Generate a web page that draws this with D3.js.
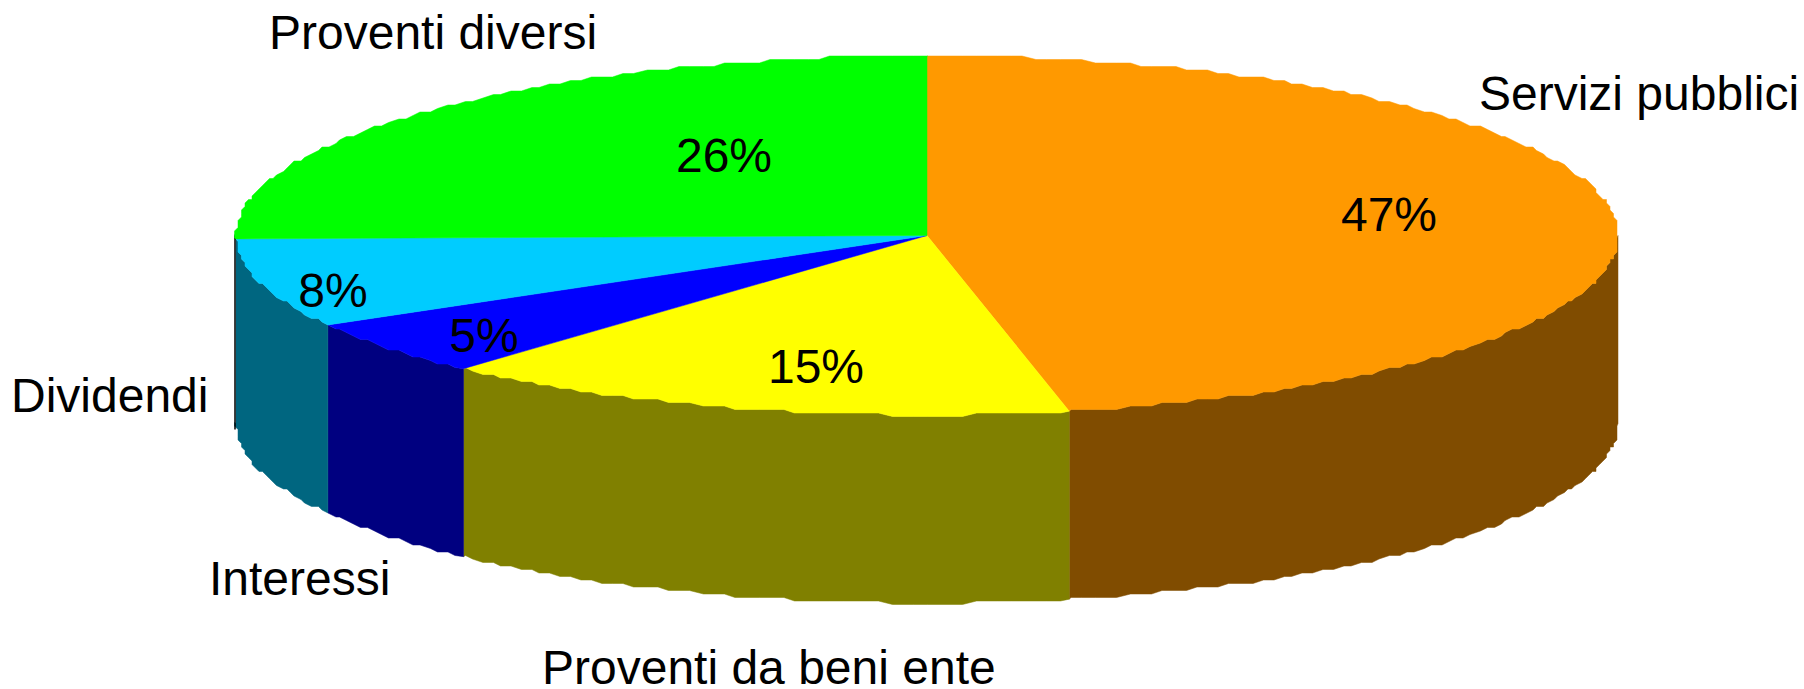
<!DOCTYPE html>
<html>
<head>
<meta charset="utf-8">
<script src="https://cdn.jsdelivr.net/npm/d3@7"></script>
<style>
  html, body { margin: 0; padding: 0; background: #fff; }
  svg { display: block; }
  text { font-family: "Liberation Sans", Arial, sans-serif; font-size: 48px; fill: #000; }
</style>
</head>
<body>
<div id="chart"></div>
<script>
// data
const categories = ["Servizi pubblici", "Proventi da beni ente", "Interessi", "Dividendi", "Proventi diversi"];
const shares = [46.7, 15, 5, 8, 25.3];
const pctLabels = ["47%", "15%", "5%", "8%", "26%"];
const topColors = ["#ff9900", "#ffff00", "#0000ff", "#00ccff", "#00ff00"];
const sideColors = ["#804c00", "#808000", "#000080", "#006680", "#008000"];

const width = 1804, height = 689;
const cx = 927, cy = 235.5, rx = 691, ry = 179.5, depth = 188;

// label spots, same order as categories
const pctPos = [[1389, 231], [816, 383], [484, 352], [333, 307], [724, 172]];
const namePos = [[1479, 110], [542, 684], [209, 595], [11, 412], [269, 49]];

const svg = d3.select("#chart").append("svg")
    .attr("width", width)
    .attr("height", height);

const pie = d3.pie().sort(null).value(d => d);
const slices = pie(shares);

const line = d3.line();

// the rim in the original is a coarse stepped outline
const grid = 3.5;
function rim(a, dy) {
    return [cx + rx * Math.sin(a), cy - ry * Math.cos(a) + dy];
}
function stepped(p) {
    return [Math.round(p[0] / grid) * grid, Math.round(p[1] / grid) * grid];
}
function rimPoints(a0, a1, dy) {
    const step = Math.PI / 180;
    const pts = [rim(a0, dy)];
    for (let a = Math.ceil(a0 / step) * step; a < a1; a += step) {
        if (a > a0) {
            const s = stepped(rim(a, 0));
            pts.push([s[0], s[1] + dy]);
        }
    }
    pts.push(rim(a1, dy));
    return pts;
}

// side wall only exists on the front half
const sideGroup = svg.append("g").attr("class", "sides");
slices.forEach(function (d, i) {
    let a0 = Math.max(d.startAngle, Math.PI / 2);
    let a1 = Math.min(d.endAngle, Math.PI * 1.5);
    if (i == 3) a1 = Math.PI * 1.5;
    if (a1 <= a0 || i == 4) return;
    const upper = rimPoints(a0, a1, 0);
    const lower = rimPoints(a0, a1, depth).reverse();
    sideGroup.append("path")
        .attr("d", line(upper.concat(lower)) + "Z")
        .attr("fill", sideColors[i])
        .attr("stroke", sideColors[i])
        .attr("stroke-width", 0.5);
});

// thin black edge at far left
svg.append("line")
    .attr("x1", cx - rx - 1).attr("x2", cx - rx - 1)
    .attr("y1", cy).attr("y2", cy + depth + 6)
    .attr("stroke", "#000")
    .attr("stroke-width", 1.5);

const topGroup = svg.append("g").attr("class", "tops");
slices.forEach(function (d, i) {
    const pts = [[cx, cy]].concat(rimPoints(d.startAngle, d.endAngle, 0));
    topGroup.append("path")
        .attr("d", line(pts) + "Z")
        .attr("fill", topColors[i])
        .attr("stroke", topColors[i])
        .attr("stroke-width", 0.5);
});

svg.append("g").selectAll("text")
    .data(pctLabels)
    .join("text")
    .attr("x", (d, i) => pctPos[i][0])
    .attr("y", (d, i) => pctPos[i][1])
    .attr("text-anchor", "middle")
    .text(d => d);

svg.append("g").selectAll("text")
    .data(categories)
    .join("text")
    .attr("x", (d, i) => namePos[i][0])
    .attr("y", (d, i) => namePos[i][1])
    .text(d => d);
</script>
</body>
</html>
